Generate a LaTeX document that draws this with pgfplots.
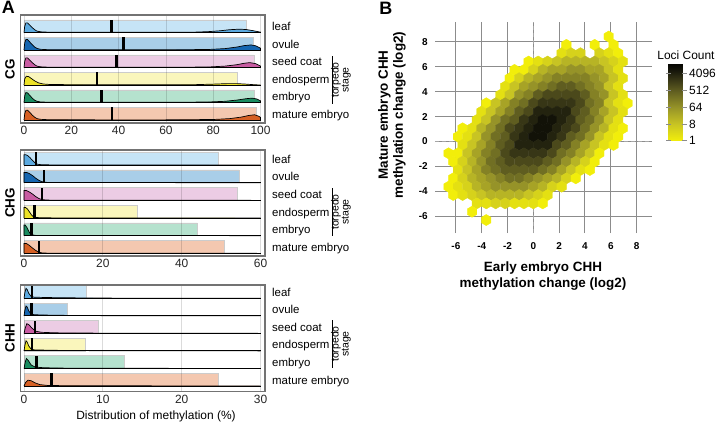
\documentclass[border=0pt]{standalone}
\usepackage{fontspec}
\setmainfont{Liberation Sans}
\usepackage{pgfplots}
\usepackage{pgfplotstable}
\pgfplotsset{compat=1.18}

\definecolor{leafB}{RGB}{198,228,246} \definecolor{leafD}{RGB}{92,170,224}
\definecolor{ovuB}{RGB}{169,206,232}  \definecolor{ovuD}{RGB}{22,102,176}
\definecolor{seedB}{RGB}{236,204,228} \definecolor{seedD}{RGB}{200,92,162}
\definecolor{endoB}{RGB}{250,246,188} \definecolor{endoD}{RGB}{236,226,40}
\definecolor{embB}{RGB}{181,226,206}  \definecolor{embD}{RGB}{26,140,96}
\definecolor{matB}{RGB}{244,200,176}  \definecolor{matD}{RGB}{214,96,36}

\pgfdeclareplotmark{hexa}{%
  \pgfpathmoveto{\pgfpoint{0bp}{5.6bp}}%
  \pgfpathlineto{\pgfpoint{4.75bp}{2.8bp}}%
  \pgfpathlineto{\pgfpoint{4.75bp}{-2.8bp}}%
  \pgfpathlineto{\pgfpoint{0bp}{-5.6bp}}%
  \pgfpathlineto{\pgfpoint{-4.75bp}{-2.8bp}}%
  \pgfpathlineto{\pgfpoint{-4.75bp}{2.8bp}}%
  \pgfpathclose
  \pgfusepathqfillstroke}

\newcommand\rbar[4]{\addplot[fill=#4, draw=black!20, line width=0.7bp] coordinates {(0,#1) (#3,#1) (#3,#2) (0,#2) (0,#1)};}
\newcommand\rmean[3]{\addplot[black, line width=2.6bp] coordinates {(#3,#1) (#3,#2)};}
\newcommand\rbase[2]{\addplot[black, line width=0.9bp] coordinates {(0,#1) (#2,#1)};}
\newcommand\rowlab[2]{\node[anchor=base west, font=\fontsize{11.5}{12}\selectfont, inner sep=0pt] at (272bp,-#1bp) {#2};}

\pgfplotsset{panelA/.style={scale only axis, width=244.2bp, axis on top,
  ytick=\empty, xmajorgrids, grid style={black, opacity=0.14, line width=0.8bp},
  axis line style={black!55, line width=1.1bp}, tick style={draw=none},
  tick label style={font=\fontsize{12}{12}\selectfont, text=black!85},
  /pgf/number format/assume math mode=true}}

\pgfplotstableread{
x y c
5.84 8.43 0
2.56 7.76 0
4.75 7.76 0
6.21 7.76 0
2.19 7.09 1
2.92 7.09 2
3.65 7.09 2
5.11 7.09 2
5.84 7.09 1
6.57 7.09 0
-0.37 6.42 0
0.37 6.42 1
1.10 6.42 2
1.83 6.42 3
2.56 6.42 4
3.29 6.42 4
4.02 6.42 4
4.75 6.42 4
5.48 6.42 3
6.21 6.42 2
6.94 6.42 1
-1.46 5.75 0
-0.73 5.75 0
0 5.75 2
0.73 5.75 4
1.46 5.75 5
2.19 5.75 5
2.92 5.75 6
3.65 5.75 6
4.38 5.75 5
5.11 5.75 5
5.84 5.75 3
6.57 5.75 1
-1.83 5.08 0
-1.10 5.08 2
-0.37 5.08 4
0.37 5.08 5
1.10 5.08 6
1.83 5.08 7
2.56 5.08 7
3.29 5.08 7
4.02 5.08 7
4.75 5.08 6
5.48 5.08 5
6.21 5.08 3
6.94 5.08 1
-2.19 4.41 1
-1.46 4.41 3
-0.73 4.41 5
0 4.41 6
0.73 4.41 7
1.46 4.41 8
2.19 4.41 9
2.92 4.41 9
3.65 4.41 8
4.38 4.41 7
5.11 4.41 6
5.84 4.41 3
6.57 4.41 1
-2.56 3.74 1
-1.83 3.74 3
-1.10 3.74 6
-0.37 3.74 7
0.37 3.74 9
1.10 3.74 10
1.83 3.74 10
2.56 3.74 10
3.29 3.74 10
4.02 3.74 9
4.75 3.74 7
5.48 3.74 6
6.21 3.74 3
6.94 3.74 1
-3.65 3.07 0
-2.92 3.07 3
-2.19 3.07 5
-1.46 3.07 7
-0.73 3.07 8
0 3.07 10
0.73 3.07 11
1.46 3.07 11
2.19 3.07 11
2.92 3.07 11
3.65 3.07 10
4.38 3.07 8
5.11 3.07 7
5.84 3.07 3
6.57 3.07 1
7.30 3.07 0
-4.02 2.40 1
-3.29 2.40 3
-2.56 2.40 5
-1.83 2.40 7
-1.10 2.40 9
-0.37 2.40 10
0.37 2.40 12
1.10 2.40 12
1.83 2.40 12
2.56 2.40 12
3.29 2.40 10
4.02 2.40 9
4.75 2.40 7
5.48 2.40 5
6.21 2.40 3
6.94 2.40 1
-4.38 1.73 1
-3.65 1.73 3
-2.92 1.73 6
-2.19 1.73 8
-1.46 1.73 9
-0.73 1.73 11
0 1.73 12
0.73 1.73 13
1.46 1.73 13
2.19 1.73 12
2.92 1.73 11
3.65 1.73 9
4.38 1.73 8
5.11 1.73 6
5.84 1.73 3
6.57 1.73 1
-5.48 1.06 0
-4.75 1.06 1
-4.02 1.06 4
-3.29 1.06 6
-2.56 1.06 8
-1.83 1.06 10
-1.10 1.06 11
-0.37 1.06 12
0.37 1.06 13
1.10 1.06 13
1.83 1.06 12
2.56 1.06 11
3.29 1.06 10
4.02 1.06 8
4.75 1.06 6
5.48 1.06 4
6.21 1.06 1
6.94 1.06 0
-5.84 0.39 0
-5.11 0.39 1
-4.38 0.39 3
-3.65 0.39 6
-2.92 0.39 8
-2.19 0.39 9
-1.46 0.39 11
-0.73 0.39 12
0 0.39 13
0.73 0.39 13
1.46 0.39 12
2.19 0.39 11
2.92 0.39 9
3.65 0.39 8
4.38 0.39 6
5.11 0.39 3
5.84 0.39 1
6.57 0.39 0
-5.48 -0.28 1
-4.75 -0.28 3
-4.02 -0.28 5
-3.29 -0.28 7
-2.56 -0.28 9
-1.83 -0.28 10
-1.10 -0.28 12
-0.37 -0.28 12
0.37 -0.28 12
1.10 -0.28 12
1.83 -0.28 10
2.56 -0.28 9
3.29 -0.28 7
4.02 -0.28 5
4.75 -0.28 3
5.48 -0.28 1
6.21 -0.28 0
-6.57 -0.95 0
-5.84 -0.95 0
-5.11 -0.95 3
-4.38 -0.95 5
-3.65 -0.95 7
-2.92 -0.95 8
-2.19 -0.95 10
-1.46 -0.95 11
-0.73 -0.95 11
0 -0.95 11
0.73 -0.95 11
1.46 -0.95 10
2.19 -0.95 8
2.92 -0.95 7
3.65 -0.95 5
4.38 -0.95 3
5.11 -0.95 0
-6.21 -1.62 0
-5.48 -1.62 2
-4.75 -1.62 4
-4.02 -1.62 6
-3.29 -1.62 8
-2.56 -1.62 9
-1.83 -1.62 10
-1.10 -1.62 10
-0.37 -1.62 10
0.37 -1.62 10
1.10 -1.62 9
1.83 -1.62 8
2.56 -1.62 6
3.29 -1.62 4
4.02 -1.62 2
4.75 -1.62 0
-5.84 -2.29 1
-5.11 -2.29 3
-4.38 -2.29 5
-3.65 -2.29 7
-2.92 -2.29 8
-2.19 -2.29 9
-1.46 -2.29 9
-0.73 -2.29 9
0 -2.29 9
0.73 -2.29 8
1.46 -2.29 7
2.19 -2.29 5
2.92 -2.29 3
3.65 -2.29 1
4.38 -2.29 0
-6.21 -2.96 0
-5.48 -2.96 2
-4.75 -2.96 4
-4.02 -2.96 5
-3.29 -2.96 6
-2.56 -2.96 7
-1.83 -2.96 8
-1.10 -2.96 8
-0.37 -2.96 7
0.37 -2.96 6
1.10 -2.96 5
1.83 -2.96 4
2.56 -2.96 2
3.29 -2.96 0
-6.57 -3.63 0
-5.84 -3.63 1
-5.11 -3.63 2
-4.38 -3.63 4
-3.65 -3.63 5
-2.92 -3.63 6
-2.19 -3.63 6
-1.46 -3.63 6
-0.73 -3.63 6
0 -3.63 5
0.73 -3.63 4
1.46 -3.63 2
2.19 -3.63 1
-6.21 -4.30 0
-5.48 -4.30 1
-4.75 -4.30 2
-4.02 -4.30 3
-3.29 -4.30 4
-2.56 -4.30 4
-1.83 -4.30 4
-1.10 -4.30 4
-0.37 -4.30 3
0.37 -4.30 2
1.10 -4.30 1
-4.38 -4.97 1
-3.65 -4.97 1
-2.92 -4.97 2
-2.19 -4.97 2
-1.46 -4.97 1
-0.73 -4.97 1
0 -4.97 1
0.73 -4.97 0
-4.75 -5.64 0
-3.65 -6.31 0
}\hexdata

\begin{document}
\begin{tikzpicture}
\useasboundingbox (0,0) rectangle (720bp,-423bp);

% ---------------- CG ----------------
\begin{axis}[panelA, at={(20.8bp,-123bp)}, anchor=south west, height=108bp,
  xmin=-1.35, xmax=101.9, ymin=-0.17, ymax=6, xtick={0,20,40,60,80,100}]
\rbar{5}{5.72}{94.1}{leafB}
\rbar{4}{4.72}{96.9}{ovuB}
\rbar{3}{3.72}{97.2}{seedB}
\rbar{2}{2.72}{90.2}{endoB}
\rbar{1}{1.72}{97.5}{embB}
\rbar{0}{0.72}{98.3}{matB}
\addplot[fill=leafD, draw=black, line width=0.7bp] coordinates {(0,5) (0.3,5.35) (0.8,5.55) (1.5,5.55) (2.5,5.42) (3.5,5.28) (4.5,5.16) (5.5,5.08) (7,5.04) (10,5.02) (30,5.01) (60,5.01) (72,5.02) (78,5.05) (83,5.1) (87,5.16) (91,5.19) (94,5.17) (97,5.1) (100,5.02) (100,5)};
\addplot[fill=ovuD, draw=black, line width=0.7bp] coordinates {(0,4) (0.3,4.4) (0.8,4.6) (1.5,4.6) (2.5,4.45) (3.5,4.3) (4.5,4.17) (5.5,4.09) (7,4.04) (10,4.02) (30,4.01) (60,4.01) (78,4.03) (85,4.08) (90,4.17) (93,4.25) (96,4.29) (98,4.24) (99.3,4.15) (100,4.1) (100,4)};
\addplot[fill=seedD, draw=black, line width=0.7bp] coordinates {(0,3) (0.3,3.35) (0.8,3.55) (1.5,3.55) (2.5,3.42) (3.5,3.28) (4.5,3.16) (5.5,3.08) (7,3.04) (10,3.02) (30,3.01) (60,3.01) (78,3.03) (85,3.08) (90,3.16) (93,3.24) (95.5,3.28) (98,3.22) (100,3.08) (100,3)};
\addplot[fill=endoD, draw=black, line width=0.7bp] coordinates {(0,2) (0.3,2.35) (1,2.5) (2,2.48) (3,2.38) (4.5,2.24) (6,2.13) (8,2.06) (11,2.03) (30,2.01) (60,2.01) (72,2.02) (80,2.05) (86,2.08) (90,2.08) (94,2.05) (97,2.02) (100,2)};
\addplot[fill=embD, draw=black, line width=0.7bp] coordinates {(0,1) (0.3,1.38) (0.8,1.57) (1.5,1.55) (2.5,1.4) (3.5,1.25) (4.5,1.13) (5.5,1.07) (7,1.03) (10,1.02) (30,1.01) (60,1.01) (78,1.03) (85,1.07) (90,1.14) (94,1.22) (96.5,1.25) (98.5,1.2) (100,1.1) (100,1)};
\addplot[fill=matD, draw=black, line width=0.7bp] coordinates {(0,0) (0.3,0.35) (0.8,0.55) (1.5,0.56) (2.5,0.43) (3.5,0.28) (4.5,0.16) (5.5,0.08) (7,0.04) (10,0.02) (30,0.01) (60,0.01) (80,0.03) (87,0.08) (92,0.17) (95,0.26) (97.5,0.3) (99.2,0.22) (100,0.15) (100,0)};
\rbase{5}{100}\rbase{4}{100}\rbase{3}{100}\rbase{2}{100}\rbase{1}{100}\rbase{0}{100}
\rmean{5}{5.72}{36.9}
\rmean{4}{4.72}{42.1}
\rmean{3}{3.72}{39.0}
\rmean{2}{2.72}{30.9}
\rmean{1}{1.72}{32.7}
\rmean{0}{0.72}{37.2}
\end{axis}

% ---------------- CHG ----------------
\begin{axis}[panelA, at={(20.8bp,-256bp)}, anchor=south west, height=106bp,
  xmin=-0.81, xmax=61.14, ymin=-0.15, ymax=5.85, xtick={0,20,40,60}]
\rbar{5}{5.72}{49.3}{leafB}
\rbar{4}{4.72}{54.6}{ovuB}
\rbar{3}{3.72}{54.2}{seedB}
\rbar{2}{2.72}{28.7}{endoB}
\rbar{1}{1.72}{44.0}{embB}
\rbar{0}{0.72}{50.8}{matB}
\addplot[fill=leafD, draw=black, line width=0.7bp] coordinates {(0,5) (0,5.58) (0.5,5.58) (1,5.52) (1.5,5.42) (2,5.3) (2.5,5.18) (3,5.09) (3.5,5.04) (4.5,5.015) (8,5.005) (60,5)};
\addplot[fill=ovuD, draw=black, line width=0.7bp] coordinates {(0,4) (0,4.58) (0.7,4.58) (1.5,4.5) (2.3,4.38) (3,4.25) (3.8,4.13) (4.5,4.06) (5.5,4.02) (10,4.005) (60,4)};
\addplot[fill=seedD, draw=black, line width=0.7bp] coordinates {(0,3) (0,3.56) (0.6,3.56) (1.4,3.47) (2.2,3.35) (3,3.21) (3.8,3.1) (4.6,3.04) (6,3.015) (12,3.005) (60,3)};
\addplot[fill=endoD, draw=black, line width=0.7bp] coordinates {(0,2) (0,2.6) (0.4,2.6) (0.9,2.5) (1.4,2.34) (1.9,2.18) (2.4,2.07) (3,2.03) (5,2.01) (60,2)};
\addplot[fill=embD, draw=black, line width=0.7bp] coordinates {(0,1) (0,1.6) (0.3,1.6) (0.7,1.48) (1.1,1.3) (1.5,1.14) (2,1.05) (3,1.015) (60,1)};
\addplot[fill=matD, draw=black, line width=0.7bp] coordinates {(0,0) (0,0.56) (0.6,0.56) (1.3,0.46) (2,0.33) (2.8,0.19) (3.6,0.08) (4.4,0.03) (6,0.01) (60,0)};
\rbase{5}{60}\rbase{4}{60}\rbase{3}{60}\rbase{2}{60}\rbase{1}{60}\rbase{0}{60}
\rmean{5}{5.72}{3.0}
\rmean{4}{4.72}{5.1}
\rmean{3}{3.72}{4.6}
\rmean{2}{2.72}{2.6}
\rmean{1}{1.72}{1.9}
\rmean{0}{0.72}{3.8}
\end{axis}

% ---------------- CHH ----------------
\begin{axis}[panelA, at={(20.8bp,-391.7bp)}, anchor=south west, height=106.7bp,
  xmin=-0.41, xmax=30.57, ymin=-0.325, ymax=5.755, xtick={0,10,20,30}]
\rbar{5}{5.72}{7.9}{leafB}
\rbar{4}{4.72}{5.5}{ovuB}
\rbar{3}{3.72}{9.4}{seedB}
\rbar{2}{2.72}{7.8}{endoB}
\rbar{1}{1.72}{12.7}{embB}
\rbar{0}{0.72}{24.7}{matB}
\addplot[fill=leafD, draw=black, line width=0.7bp] coordinates {(0,5) (0.1,5.3) (0.25,5.57) (0.4,5.5) (0.6,5.28) (0.9,5.1) (1.3,5.06) (3,5.04) (6,5.025) (10,5.01) (15,5.005) (30,5)};
\addplot[fill=ovuD, draw=black, line width=0.7bp] coordinates {(0,4) (0.1,4.3) (0.25,4.56) (0.4,4.5) (0.6,4.28) (0.9,4.1) (1.3,4.06) (3,4.04) (6,4.02) (10,4.008) (30,4)};
\addplot[fill=seedD, draw=black, line width=0.7bp] coordinates {(0,3) (0.15,3.3) (0.35,3.55) (0.6,3.5) (1.0,3.3) (1.5,3.12) (2.2,3.06) (4,3.03) (8,3.015) (30,3)};
\addplot[fill=endoD, draw=black, line width=0.7bp] coordinates {(0,2) (0.1,2.3) (0.25,2.58) (0.4,2.5) (0.6,2.28) (0.9,2.1) (1.3,2.06) (3,2.04) (6,2.02) (10,2.01) (30,2)};
\addplot[fill=embD, draw=black, line width=0.7bp] coordinates {(0,1) (0.15,1.35) (0.3,1.57) (0.55,1.45) (0.9,1.2) (1.4,1.08) (2.5,1.04) (5,1.02) (10,1.01) (30,1)};
\addplot[fill=matD, draw=black, line width=0.7bp] coordinates {(0,0) (0.2,0.2) (0.5,0.33) (0.9,0.3) (1.4,0.18) (2,0.08) (3,0.03) (6,0.015) (30,0)};
\rbase{5}{30}\rbase{4}{30}\rbase{3}{30}\rbase{2}{30}\rbase{1}{30}\rbase{0}{30}
\rmean{5}{5.72}{1.0}
\rmean{4}{4.72}{0.95}
\rmean{3}{3.72}{1.4}
\rmean{2}{2.72}{1.0}
\rmean{1}{1.72}{1.6}
\rmean{0}{0.72}{3.45}
\end{axis}

% ---------------- Hexbin ----------------
\begin{axis}[at={(435bp,-233bp)}, anchor=south west, scale only axis,
  width=216.7bp, height=211.3bp,
  xmin=-7.62, xmax=9.17, ymin=-7.35, ymax=9.62,
  xtick={-6,-4,...,8}, ytick={-6,-4,...,8},
  grid=major, grid style={black!45, line width=1bp},
  axis line style={draw=none}, tick style={draw=none},
  tick label style={font=\bfseries\fontsize{10}{10}\selectfont},
  xticklabel style={yshift=-6.5bp}, yticklabel style={xshift=-3.7bp},
  /pgf/number format/assume math mode=true,
  colormap={hexmap}{rgb255(0cm)=(242,238,10) rgb255(3cm)=(200,196,35) rgb255(6cm)=(150,147,40) rgb255(9cm)=(95,93,32) rgb255(11cm)=(55,54,22) rgb255(12.5cm)=(25,25,12) rgb255(13.9cm)=(5,5,2)},
  point meta min=0, point meta max=13.9,
  colorbar,
  colorbar style={at={(parent axis.north east)}, anchor=north west,
    xshift=8.3bp, yshift=-41.6bp,
    scale only axis, width=15.7bp, height=77.4bp,
    axis line style={draw=none}, xmajorgrids=false, ymajorgrids=false,
    ytick={0,3,6,9,12}, yticklabels={1,8,64,512,4096}, yticklabel pos=right,
    major tick length=5bp, tick align=center,
    ytick style={draw=black!45, line width=0.8bp},
    yticklabel style={font=\fontsize{12}{12}\selectfont, xshift=-1bp}},
]
\addplot[scatter, only marks, mark=hexa, mark options={line width=0.3bp},
  point meta=explicit, scatter/use mapped color={draw=mapped color, fill=mapped color}]
  table[x=x, y=y, meta=c] {\hexdata};
\addplot[black!35, dash pattern=on 4bp off 3bp, line width=1bp] coordinates {(0,-7.35) (0,9.62)};
\addplot[black!35, dash pattern=on 4bp off 3bp, line width=1bp] coordinates {(-7.62,0) (9.17,0)};
\end{axis}

% ---------------- text ----------------
\node[font=\bfseries\fontsize{18}{18}\selectfont] at (8.3bp,-7bp) {A};
\node[font=\bfseries\fontsize{18}{18}\selectfont] at (385.8bp,-8.5bp) {B};
\node[rotate=90, font=\bfseries\fontsize{13.5}{14}\selectfont] at (10bp,-69bp) {CG};
\node[rotate=90, font=\bfseries\fontsize{13.5}{14}\selectfont] at (10bp,-203bp) {CHG};
\node[rotate=90, font=\bfseries\fontsize{13.5}{14}\selectfont] at (10bp,-338bp) {CHH};
\node[font=\fontsize{12}{12}\selectfont] at (156bp,-416bp) {Distribution of methylation (\%)};

\rowlab{30.7}{leaf}\rowlab{48.2}{ovule}\rowlab{65.7}{seed coat}\rowlab{83.2}{endosperm}\rowlab{100.7}{embryo}\rowlab{118.2}{mature embryo}
\rowlab{163.1}{leaf}\rowlab{180.7}{ovule}\rowlab{198.4}{seed coat}\rowlab{216.0}{endosperm}\rowlab{233.7}{embryo}\rowlab{251.3}{mature embryo}
\rowlab{296.3}{leaf}\rowlab{313.8}{ovule}\rowlab{331.4}{seed coat}\rowlab{348.9}{endosperm}\rowlab{366.5}{embryo}\rowlab{384.0}{mature embryo}

\foreach \c in {80,212,344}{
  \draw[black, line width=0.9bp] (332bp,-\c bp+24bp) -- (332bp,-\c bp-24bp);
  \node[rotate=90, align=center, font=\fontsize{10.5}{10}\selectfont] at (341bp,-\c bp) {torpedo\\stage};
}

\node[font=\bfseries\fontsize{13.5}{16}\selectfont, align=center] at (543bp,-276bp) {Early embryo CHH\\methylation change (log2)};
\node[rotate=90, font=\bfseries\fontsize{13.5}{15}\selectfont, align=center] at (392bp,-115bp) {Mature embryo CHH\\methylation change (log2)};
\node[font=\fontsize{12}{12}\selectfont] at (686bp,-55bp) {Loci Count};
\end{tikzpicture}
\end{document}
